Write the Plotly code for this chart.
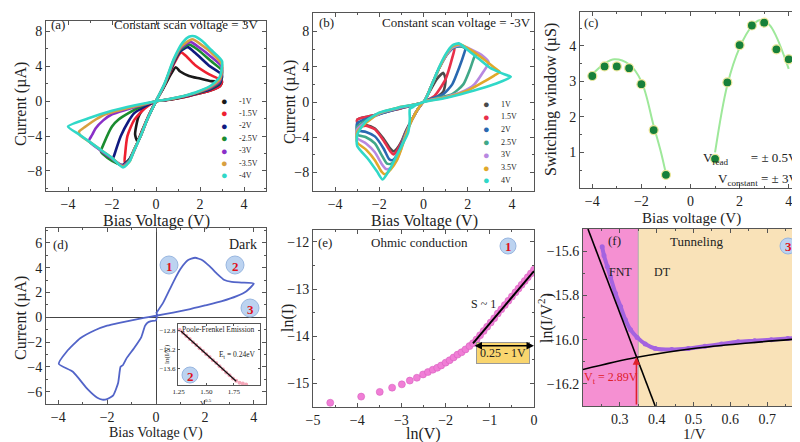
import plotly.graph_objects as go

W, H = 800, 442
FONT = "Liberation Serif"

# ---------------- (a) constant scan voltage = +3 V ----------------
a_names = ["-1V", "-1.5V", "-2V", "-2.5V", "-3V", "-3.5V", "-4V"]
a_colors = ["#1a1a1a", "#ee2030", "#101a80", "#1a8c30", "#8a30c8", "#d8a040", "#30d8c8"]
a1_v = [0, 0.4, 0.7, 0.9, 1.1, 1.5, 2.0, 2.5, 3.0, 2.9, 2.5, 2.0, 1.5, 1.0, 0.5, 0, -0.5, -0.8, -0.95, -0.85, -0.6, -0.3, 0]
a1_i = [0, 1.8, 3.2, 3.9, 3.4, 2.9, 2.6, 2.3, 2.2, 1.7, 1.25, 0.9, 0.6, 0.35, 0.15, 0, -0.6, -1.8, -3.8, -4.6, -3.2, -1.5, 0]
a2_v = [0, 0.4, 0.8, 1.14, 1.4, 1.8, 2.4, 3.0, 2.9, 2.5, 2.0, 1.5, 1.0, 0.5, 0, -0.5, -1.0, -1.3, -1.4, -1.42, -1.3, -1.1, -0.8, -0.5, -0.25, 0]
a2_i = [0, 1.9, 4.2, 5.6, 5.1, 4.1, 3.1, 2.3, 1.7, 1.25, 0.9, 0.6, 0.35, 0.15, 0, -0.8, -2.2, -4.0, -6.0, -7.0, -7.1, -6.3, -4.5, -2.6, -1.2, 0]
a3_v = [0, 0.4, 0.8, 1.1, 1.44, 1.8, 2.4, 3.0, 2.9, 2.5, 2.0, 1.5, 1.0, 0.5, 0, -0.5, -1.0, -1.25, -1.6, -1.9, -1.95, -1.7, -1.5, -1.2, -1.0, -0.7, -0.4, 0]
a3_i = [0, 1.9, 4.4, 5.7, 6.2, 5.5, 4.1, 3.0, 2.0, 1.4, 1.0, 0.65, 0.38, 0.16, 0, -0.6, -1.4, -2.3, -4.0, -6.2, -6.6, -7.2, -7.3, -6.6, -5.6, -4.0, -2.1, 0]
a4_v = [0, 0.4, 0.8, 1.1, 1.5, 1.9, 2.5, 3.0, 2.9, 2.5, 2.0, 1.5, 1.0, 0.5, 0, -0.6, -1.23, -1.7, -2.0, -2.36, -2.5, -2.2, -1.8, -1.5, -1.2, -1.0, -0.7, -0.4, 0]
a4_i = [0, 2.0, 4.5, 5.9, 6.5, 5.9, 4.6, 3.5, 2.2, 1.5, 1.05, 0.7, 0.4, 0.17, 0, -0.5, -1.35, -2.1, -2.9, -4.8, -5.8, -6.5, -7.1, -7.35, -6.7, -5.6, -4.0, -2.1, 0]
a5_v = [0, 0.4, 0.8, 1.1, 1.55, 2.0, 2.5, 3.0, 2.9, 2.5, 2.0, 1.5, 1.0, 0.5, 0, -0.7, -1.4, -2.0, -2.4, -2.74, -2.9, -3.05, -2.6, -2.0, -1.5, -1.2, -1.0, -0.7, -0.4, 0]
a5_i = [0, 2.0, 4.6, 6.0, 6.8, 6.1, 5.1, 3.9, 2.3, 1.6, 1.1, 0.72, 0.42, 0.18, 0, -0.5, -1.0, -1.5, -2.2, -3.1, -3.85, -4.6, -5.5, -6.6, -7.4, -6.8, -5.6, -4.0, -2.1, 0]
a6_v = [0, 0.4, 0.8, 1.15, 1.65, 2.1, 2.5, 3.0, 2.9, 2.5, 2.0, 1.5, 1.0, 0.5, 0, -0.8, -1.6, -2.3, -2.74, -3.2, -3.5, -3.45, -3.0, -2.5, -2.0, -1.5, -1.2, -1.0, -0.7, -0.4, 0]
a6_i = [0, 2.0, 4.7, 6.3, 7.1, 6.4, 5.6, 4.2, 2.5, 1.7, 1.15, 0.75, 0.44, 0.19, 0, -0.5, -1.0, -1.5, -2.1, -2.9, -3.5, -3.9, -4.7, -5.6, -6.5, -7.5, -6.9, -5.6, -4.0, -2.1, 0]
a7_v = [0, 0.4, 0.8, 1.2, 1.5, 1.75, 2.1, 2.5, 3.0, 2.9, 2.5, 2.0, 1.5, 1.0, 0.5, 0, -1.0, -2.0, -3.0, -4.0, -3.5, -3.0, -2.5, -2.0, -1.5, -1.2, -1.0, -0.7, -0.4, 0]
a7_i = [0, 2.1, 4.8, 6.7, 7.4, 7.45, 6.9, 5.9, 4.6, 2.8, 1.8, 1.2, 0.78, 0.45, 0.2, 0, -0.5, -1.1, -1.9, -2.9, -3.8, -4.7, -5.6, -6.5, -7.6, -6.9, -5.7, -4.0, -2.1, 0]

# ---------------- (b) constant scan voltage = -3 V ----------------
b_names = ["1V", "1.5V", "2V", "2.5V", "3V", "3.5V", "4V"]
b_colors = ["#4a4a4a", "#e8304a", "#2a68b0", "#40a888", "#b888e0", "#e0a82a", "#30d8c8"]
b1_v = [0, 0.5, 0.9, 1.0, 0.9, 0.6, 0.3, 0, -0.5, -1.0, -1.5, -2.0, -2.5, -3.0, -2.95, -2.6, -2.2, -1.8, -1.5, -1.35, -1.2, -1.0, -0.8, -0.5, -0.25, 0]
b1_i = [0, 0.4, 1.2, 2.5, 3.3, 2.6, 1.3, 0, -0.35, -0.7, -1.0, -1.35, -1.65, -2.0, -2.6, -2.6, -3.0, -4.2, -5.3, -5.6, -5.3, -4.5, -3.3, -1.9, -0.8, 0]
b2_v = [0, 0.5, 1.0, 1.3, 1.4, 1.3, 1.1, 0.7, 0.35, 0, -0.5, -1.0, -1.5, -2.0, -2.5, -3.0, -2.95, -2.6, -2.2, -1.8, -1.5, -1.35, -1.2, -1.0, -0.8, -0.5, -0.25, 0]
b2_i = [0, 0.7, 2.6, 5.0, 6.1, 6.25, 5.6, 3.8, 1.8, 0, -0.35, -0.7, -1.0, -1.35, -1.65, -2.0, -2.8, -2.7, -3.1, -4.4, -5.6, -5.95, -5.5, -4.6, -3.4, -1.9, -0.8, 0]
b3_v = [0, 0.5, 0.9, 1.3, 1.6, 1.85, 1.9, 1.7, 1.4, 1.1, 0.7, 0.35, 0, -1.0, -2.0, -3.0, -3.0, -2.6, -2.2, -1.8, -1.55, -1.4, -1.2, -1.0, -0.8, -0.5, -0.25, 0]
b3_i = [0, 0.5, 0.9, 2.0, 3.8, 5.6, 6.1, 6.3, 6.2, 5.5, 3.8, 1.8, 0, -0.65, -1.4, -2.4, -3.2, -3.4, -3.9, -5.3, -6.5, -6.6, -6.0, -4.8, -3.5, -1.9, -0.8, 0]
b4_v = [0, 0.7, 1.3, 1.8, 2.1, 2.3, 2.4, 2.0, 1.6, 1.3, 1.0, 0.7, 0.35, 0, -1.0, -2.0, -3.0, -3.0, -2.6, -2.2, -1.9, -1.65, -1.45, -1.2, -1.0, -0.8, -0.5, -0.25, 0]
b4_i = [0, 0.5, 0.9, 2.0, 3.7, 5.1, 5.4, 6.0, 6.35, 6.1, 5.2, 3.8, 1.8, 0, -0.6, -1.3, -2.8, -3.7, -4.0, -4.7, -6.0, -7.0, -7.0, -6.3, -5.0, -3.6, -1.9, -0.8, 0]
b5_v = [0, 1.0, 1.7, 2.3, 2.7, 2.95, 2.7, 2.2, 1.65, 1.3, 1.0, 0.7, 0.35, 0, -1.0, -2.0, -3.0, -3.0, -2.6, -2.2, -1.9, -1.7, -1.5, -1.2, -1.0, -0.8, -0.5, -0.25, 0]
b5_i = [0, 0.55, 1.1, 2.0, 3.4, 4.5, 5.2, 5.9, 6.45, 6.2, 5.2, 3.8, 1.8, 0, -0.6, -1.3, -3.1, -4.1, -4.7, -5.7, -7.0, -7.6, -7.5, -6.5, -5.2, -3.7, -1.9, -0.8, 0]
b6_v = [0, 1.0, 2.0, 2.8, 3.2, 3.45, 3.2, 2.7, 2.2, 1.65, 1.3, 1.0, 0.7, 0.35, 0, -1.0, -2.0, -3.0, -3.0, -2.6, -2.2, -1.9, -1.75, -1.5, -1.2, -1.0, -0.8, -0.5, -0.25, 0]
b6_i = [0, 0.5, 1.3, 2.4, 3.0, 3.4, 3.9, 4.9, 5.8, 6.55, 6.3, 5.3, 3.8, 1.8, 0, -0.55, -1.25, -3.4, -4.6, -5.4, -6.6, -7.9, -8.2, -7.7, -6.6, -5.3, -3.8, -1.9, -0.8, 0]
b7_v = [0, 1.0, 2.0, 3.0, 3.5, 3.95, 3.5, 3.0, 2.5, 2.0, 1.6, 1.3, 1.0, 0.7, 0.35, 0, -1.0, -2.0, -2.6, -3.0, -3.0, -2.5, -2.1, -1.85, -1.5, -1.2, -0.95, -0.7, -0.62, -0.62, -0.5, -0.3, 0]
b7_i = [0, 0.45, 1.1, 1.85, 2.3, 2.85, 3.3, 3.9, 4.9, 5.9, 6.65, 6.4, 5.4, 3.9, 1.8, 0, -0.55, -1.2, -2.2, -3.7, -5.0, -6.5, -7.9, -8.8, -7.5, -6.0, -4.8, -3.5, -2.0, -0.8, -0.6, -0.3, 0]

# ---------------- (c) switching window ----------------
c_v = [-4, -3.5, -3, -2.5, -2, -1.5, -1, 1, 1.5, 2, 2.5, 3, 3.5, 4]
c_w = [3.15, 3.42, 3.42, 3.37, 2.92, 1.63, 0.37, 0.82, 2.97, 4.02, 4.57, 4.65, 3.9, 3.62]
c_fitn_v = [-4.0, -3.5, -3.1, -2.5, -2.0, -1.5, -1.2, -1.0]
c_fitn_w = [3.2, 3.5, 3.62, 3.48, 3.0, 1.75, 1.0, 0.4]
c_fitp_v = [1.0, 1.5, 2.0, 2.5, 2.8, 3.2, 3.5, 4.0]
c_fitp_w = [1.0, 2.9, 3.95, 4.55, 4.72, 4.6, 4.25, 3.35]

# ---------------- (d) dark I-V loop ----------------
d_v = [0, 0.3, 0.55, 0.8, 1.0, 1.3, 1.6, 1.9, 2.2, 2.5, 2.8, 3.1, 3.5, 4.0, 3.7, 3.3, 2.7, 2.0, 1.4, 0.7, 0, -0.5, -1.0, -1.5, -2.0, -2.5, -3.1, -3.65, -3.98,
       -3.4, -2.8, -2.4, -2.2, -2.0, -1.75, -1.55, -1.45, -1.35, -1.2, -0.9, -0.6, -0.45, -0.35, -0.2, 0, 0.05]
d_i = [0.3, 1.2, 2.2, 3.2, 3.9, 4.6, 4.8, 4.6, 4.1, 3.5, 3.0, 2.85, 2.8, 2.72, 2.1, 1.7, 1.3, 0.95, 0.66, 0.38, 0.12, -0.05, -0.25, -0.45, -0.68, -1.05, -1.7, -2.76, -3.76,
       -4.4, -5.8, -6.5, -6.65, -6.6, -6.3, -5.3, -4.0, -3.85, -3.3, -2.5, -1.6, -0.7, -0.45, -0.32, -0.25, 0.3]
# inset: Poole-Frenkel
pf_x = [1.26, 1.29, 1.32, 1.35, 1.38, 1.41, 1.44, 1.47, 1.50, 1.53, 1.56, 1.59, 1.62, 1.65, 1.68, 1.71, 1.74, 1.77, 1.80, 1.83, 1.86]
pf_y = [-12.78, -12.84, -12.91, -12.97, -13.04, -13.10, -13.17, -13.23, -13.30, -13.36, -13.43, -13.49, -13.56, -13.62, -13.69, -13.75, -13.82, -13.87, -13.91, -13.93, -13.95]
pf_fit_x = [1.27, 1.77]
pf_fit_y = [-12.80, -13.88]

# ---------------- (e) ohmic conduction ----------------
e_lnv = [-4.61, -3.91, -3.49, -3.21, -2.99, -2.81, -2.65, -2.51, -2.40, -2.29, -2.19, -2.10, -2.00, -1.91, -1.82, -1.73, -1.64, -1.55,
         -1.46, -1.38, -1.30, -1.22, -1.14, -1.06, -0.98, -0.90, -0.82, -0.74, -0.66, -0.58, -0.50, -0.42, -0.35, -0.28, -0.21, -0.14, -0.07, 0.0]
e_lni = [-15.41, -15.28, -15.18, -15.09, -15.02, -14.94, -14.88, -14.81, -14.76, -14.71, -14.67, -14.62, -14.56, -14.51, -14.45, -14.39, -14.34, -14.28,
         -14.21, -14.15, -14.07, -13.98, -13.89, -13.80, -13.71, -13.62, -13.52, -13.43, -13.34, -13.25, -13.16, -13.07, -12.99, -12.91, -12.83, -12.75, -12.67, -12.59]
e_fit_x = [-1.38, 0.0]
e_fit_y = [-14.15, -12.62]

# ---------------- (f) tunneling ----------------
f_x = [0.252, 0.257, 0.266, 0.275, 0.288, 0.302, 0.315, 0.329, 0.347, 0.369, 0.396, 0.441, 0.486, 0.531, 0.576, 0.621, 0.666, 0.711, 0.756, 0.797]
f_y = [-15.58, -15.62, -15.67, -15.72, -15.79, -15.85, -15.91, -15.955, -15.99, -16.02, -16.04, -16.045, -16.04, -16.03, -16.02, -16.01, -16.005, -16.0, -15.995, -15.99]
f_fnt_x = [0.2135, 0.396]
f_fnt_y = [-15.5, -16.3]
f_dt_x = [0.2, 0.347, 0.5, 0.65, 0.8]
f_dt_y = [-16.135, -16.08, -16.04, -16.015, -15.995]
f_vt = 0.345

# ---------------- layout helpers ----------------
def frame(l, r, t, b):
    return [l / W, r / W], [1 - b / H, 1 - t / H]

def pp(x, y):
    return x / W, 1 - y / H

PANELS = {
    "": frame(38, 258, 13, 183),
    "2": frame(305, 526, 5, 183),
    "3": frame(572, 793, 4, 180),
    "4": frame(38, 258, 220, 396),
    "5": frame(305, 526, 222, 399),
    "6": frame(575, 796, 221, 398),
    "7": frame(170, 252, 316, 377),
}

fig = go.Figure()

a_v = [a1_v, a2_v, a3_v, a4_v, a5_v, a6_v, a7_v]
a_i = [a1_i, a2_i, a3_i, a4_i, a5_i, a6_i, a7_i]
for k in range(7):
    fig.add_trace(go.Scatter(x=a_v[k], y=a_i[k], mode="lines", name=a_names[k],
                             line=dict(color=a_colors[k], width=2.6, shape="spline", smoothing=0.6),
                             xaxis="x", yaxis="y", showlegend=False))
b_v = [b1_v, b2_v, b3_v, b4_v, b5_v, b6_v, b7_v]
b_i = [b1_i, b2_i, b3_i, b4_i, b5_i, b6_i, b7_i]
for k in range(7):
    fig.add_trace(go.Scatter(x=b_v[k], y=b_i[k], mode="lines", name=b_names[k],
                             line=dict(color=b_colors[k], width=2.6, shape="spline", smoothing=0.6),
                             xaxis="x2", yaxis="y2", showlegend=False))

fig.add_trace(go.Scatter(x=c_fitn_v, y=c_fitn_w, mode="lines", line=dict(color="#9ee89a", width=2, shape="spline"),
                         xaxis="x3", yaxis="y3", showlegend=False))
fig.add_trace(go.Scatter(x=c_fitp_v, y=c_fitp_w, mode="lines", line=dict(color="#9ee89a", width=2, shape="spline"),
                         xaxis="x3", yaxis="y3", showlegend=False))
fig.add_trace(go.Scatter(x=c_v, y=c_w, mode="markers",
                         marker=dict(color="#17803a", size=9, line=dict(color="#eee79a", width=1.2)),
                         xaxis="x3", yaxis="y3", showlegend=False))

fig.add_trace(go.Scatter(x=d_v, y=d_i, mode="lines", line=dict(color="#5264c8", width=1.8, shape="spline", smoothing=0.5),
                         xaxis="x4", yaxis="y4", showlegend=False))
fig.add_trace(go.Scatter(x=pf_x, y=pf_y, mode="markers", marker=dict(color="#f4a6b8", size=4),
                         xaxis="x7", yaxis="y7", showlegend=False))
fig.add_trace(go.Scatter(x=pf_fit_x, y=pf_fit_y, mode="lines", line=dict(color="#111", width=1.3),
                         xaxis="x7", yaxis="y7", showlegend=False))

fig.add_trace(go.Scatter(x=e_lnv, y=e_lni, mode="markers",
                         marker=dict(color="#f07ed6", size=7, line=dict(color="#d860bf", width=0.6)),
                         xaxis="x5", yaxis="y5", showlegend=False))
fig.add_trace(go.Scatter(x=e_fit_x, y=e_fit_y, mode="lines", line=dict(color="#000", width=2),
                         xaxis="x5", yaxis="y5", showlegend=False))

fig.add_trace(go.Scatter(x=f_x, y=f_y, mode="lines+markers", line=dict(color="#a463e0", width=4, shape="spline"),
                         marker=dict(color="#a463e0", size=5), xaxis="x6", yaxis="y6", showlegend=False))
fig.add_trace(go.Scatter(x=f_fnt_x, y=f_fnt_y, mode="lines", line=dict(color="#000", width=1.6),
                         xaxis="x6", yaxis="y6", showlegend=False))
fig.add_trace(go.Scatter(x=f_dt_x, y=f_dt_y, mode="lines", line=dict(color="#000", width=1.6, shape="spline"),
                         xaxis="x6", yaxis="y6", showlegend=False))

# ---------------- axes ----------------
def ax(dom, rng, anchor, tickvals, size=14, minor=None, fmt=None, **kw):
    d = dict(domain=dom, range=rng, anchor=anchor, showline=True, linecolor="#555", linewidth=1,
             mirror="ticks", ticks="inside", ticklen=4, tickcolor="#555", showgrid=False, zeroline=False,
             tickvals=tickvals, tickfont=dict(size=size, color="#222", family=FONT), automargin=False)
    if minor:
        d["minor"] = dict(ticks="inside", ticklen=2, tickcolor="#555", dtick=minor)
    if fmt:
        d["tickformat"] = fmt
    d.update(kw)
    return d

lay = {}
lay["xaxis"] = ax(PANELS[""][0], [-5, 5], "y", [-4, -2, 0, 2, 4], minor=1)
lay["yaxis"] = ax(PANELS[""][1], [-10.3, 9.2], "x", [-8, -4, 0, 4, 8], minor=2)
lay["xaxis2"] = ax(PANELS["2"][0], [-5, 5], "y2", [-4, -2, 0, 2, 4], minor=1)
lay["yaxis2"] = ax(PANELS["2"][1], [-10.1, 10.1], "x2", [-8, -4, 0, 4, 8], minor=2)
lay["xaxis3"] = ax(PANELS["3"][0], [-4.5, 4.5], "y3", [-4, -2, 0, 2, 4], minor=1)
lay["yaxis3"] = ax(PANELS["3"][1], [0, 4.95], "x3", [1, 2, 3, 4], minor=0.5)
lay["xaxis4"] = ax(PANELS["4"][0], [-4.5, 4.5], "y4", [-4, -2, 0, 2, 4], minor=1,
                   zeroline=True, zerolinecolor="#444", zerolinewidth=1.2)
lay["yaxis4"] = ax(PANELS["4"][1], [-7, 7.2], "x4", [-6, -4, -2, 0, 2, 4, 6], minor=1,
                   zeroline=True, zerolinecolor="#444", zerolinewidth=1.2)
lay["xaxis5"] = ax(PANELS["5"][0], [-5, 0], "y5", [-5, -4, -3, -2, -1, 0], minor=0.5)
lay["yaxis5"] = ax(PANELS["5"][1], [-15.5, -11.75], "x5", [-15, -14, -13, -12], minor=0.5)
lay["xaxis6"] = ax(PANELS["6"][0], [0.2, 0.8], "y6", [0.3, 0.4, 0.5, 0.6, 0.7], minor=0.05)
lay["yaxis6"] = ax(PANELS["6"][1], [-16.3, -15.5], "x6", [-16.2, -16.0, -15.8, -15.6], fmt=".1f", minor=0.1)
lay["xaxis7"] = ax(PANELS["7"][0], [1.245, 1.985], "y7", [1.25, 1.5, 1.75], size=7, fmt=".2f", ticklen=2)
lay["yaxis7"] = ax(PANELS["7"][1], [-13.96, -12.65], "x7", [-13.6, -13.2, -12.8], size=7, fmt=".1f", ticklen=2)

# ---------------- annotations ----------------
ann = []
def txt(x, y, s, size=13, color="#222", xanchor="center", angle=0, **kw):
    px, py = pp(x, y)
    ann.append(dict(x=px, y=py, xref="paper", yref="paper", text=s, showarrow=False, textangle=angle,
                    font=dict(size=size, color=color, family=FONT), xanchor=xanchor, yanchor="middle", **kw))

# axis titles
txt(148, 213, "Bias Voltage (V)", 16)
txt(13, 96, "Current (µA)", 16, angle=-90)
txt(416, 213, "Bias Voltage (V)", 16)
txt(282, 94, "Current (µA)", 16, angle=-90)
txt(683, 210, "Bias voltage (V)", 15)
txt(543, 92, "Switching window (µS)", 16, angle=-90)
txt(148, 425, "Bias Voltage (V)", 14)
txt(13, 310, "Current (µA)", 16, angle=-90)
txt(415, 426, "ln(V)", 16)
txt(280, 310, "ln(I)", 16, angle=-90)
txt(686, 426, "1/V", 15)
txt(537, 310, "ln(I/V<sup>2</sup>)", 16, angle=-90)
txt(198, 394, "V<sup>0.5</sup>", 7)
txt(159, 346, "ln(I/V)", 7, angle=-90)

txt(50, 17, "(a)", 13)
txt(178, 17, "Constant scan voltage = 3V", 13)
txt(318, 15, "(b)", 13)
txt(448, 15, "Constant scan voltage = -3V", 13)
txt(583, 15, "(c)", 13)
txt(792, 150, "V<sub>read</sub>       = ± 0.5V", 13, xanchor="right")
txt(792, 172, "V<sub>constant</sub> = ± 3V", 13, xanchor="right")
txt(52, 236, "(d)", 13)
txt(251, 236, "Dark", 14, xanchor="right")
txt(210, 321, "Poole-Frenkel Emission", 7.5)
txt(229, 347, "E<sub>t</sub> = 0.24eV", 7.5)
txt(317, 234, "(e)", 13)
txt(411, 234, "Ohmic conduction", 13)
txt(475, 296, "S ~ 1", 12)
txt(606, 232, "(f)", 13)
txt(688, 233, "Tunneling", 13)
txt(612, 264, "FNT", 12)
txt(654, 264, "DT", 12)
txt(603, 370, "V<sub>t</sub> = 2.89V", 12, color="#e0202a")

# legends (a) and (b)
for k in range(7):
    txt(216, 93 + 12.4 * k, "●", 11, color=a_colors[k])
    txt(229, 93 + 12.4 * k, a_names[k], 8, xanchor="left")
    txt(478, 96 + 12.7 * k, "●", 11, color=b_colors[k])
    txt(491, 96 + 12.7 * k, b_names[k], 8, xanchor="left")

# box label in (e)
bx, by = pp(495, 356)
ann.append(dict(x=bx, y=by, xref="paper", yref="paper", text="0.25 - 1V", showarrow=False,
                font=dict(size=12, color="#222", family=FONT), bgcolor="#f9d56e", bordercolor="#999",
                borderwidth=1, borderpad=3))
# double arrow in (e)
ann.append(dict(x=0, y=-14.2, ax=-1.38, ay=-14.2, xref="x5", yref="y5", axref="x5", ayref="y5", text="",
                showarrow=True, arrowhead=2, startarrowhead=2, arrowside="end+start", arrowwidth=1.5,
                arrowcolor="#000"))
# red arrow in (f)
ann.append(dict(x=f_vt, y=-16.08, ax=f_vt, ay=-16.3, xref="x6", yref="y6", axref="x6", ayref="y6", text="",
                showarrow=True, arrowhead=2, arrowwidth=1.5, arrowcolor="#e0202a"))

# ---------------- shapes ----------------
shapes = []
shapes.append(dict(type="rect", xref="x6", yref="y6 domain", x0=0.2, x1=0.35, y0=0, y1=1,
                   fillcolor="#f590d2", line=dict(width=0), layer="below"))
shapes.append(dict(type="rect", xref="x6", yref="y6 domain", x0=0.35, x1=0.8, y0=0, y1=1,
                   fillcolor="#f9e2b8", line=dict(width=0), layer="below"))
shapes.append(dict(type="line", xref="x6", yref="y6 domain", x0=0.35, x1=0.35, y0=0, y1=1,
                   line=dict(color="#aaa", width=1), layer="below"))

def bubble(x, y, s, r=9):
    cx, cy = pp(x, y)
    shapes.append(dict(type="circle", xref="paper", yref="paper", x0=cx - r / W, x1=cx + r / W,
                       y0=cy - r / H, y1=cy + r / H, fillcolor="#bcd3f0", line=dict(color="#98b6e0", width=1)))
    txt(x, y + 1, "<b>" + s + "</b>", 13, color="#e0101a")

bubble(161, 257, "1")
bubble(227, 257, "2")
bubble(242, 300, "3")
bubble(182, 367, "2", r=8)
bubble(500, 238, "1", r=8)
bubble(780, 238, "3", r=8)

fig.update_layout(width=W, height=H, margin=dict(l=0, r=0, t=0, b=0, pad=0),
                  paper_bgcolor="white", plot_bgcolor="white",
                  font=dict(family=FONT, color="#222"), annotations=ann, shapes=shapes, **lay)
fig.write_html("out.html")
